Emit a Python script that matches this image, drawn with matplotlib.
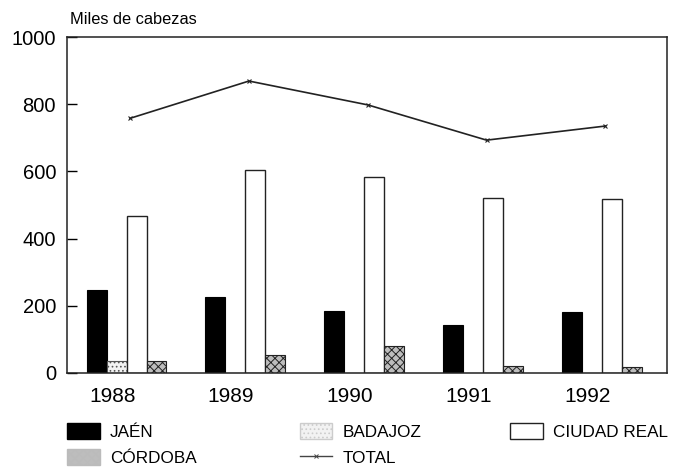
import matplotlib
matplotlib.use("Agg")
import matplotlib.pyplot as plt
import numpy as np
from matplotlib.lines import Line2D
from matplotlib.patches import Patch

plt.rcParams['font.family'] = ['Liberation Sans', 'DejaVu Sans']
plt.rcParams['hatch.linewidth'] = 0.7

years = ['1988', '1989', '1990', '1991', '1992']
jaen = [247, 226, 185, 143, 182]
badajoz = [36, 0, 0, 0, 0]
ciudad_real = [467, 604, 583, 521, 518]
cordoba = [36, 54, 80, 21, 18]
total = [758, 869, 798, 693, 735]

fig = plt.figure(figsize=(6.85, 4.69), dpi=100)
ax = fig.add_axes([0.098, 0.205, 0.876, 0.716])

x = np.arange(len(years))
w = 0.168

ax.bar(x - 1.5 * w, jaen, w, color='black', edgecolor='black', linewidth=0.8)
ax.bar(x - 0.5 * w, badajoz, w, color='#f2f2f2', edgecolor='#555555',
       hatch='....', linewidth=0.8)
ax.bar(x + 0.5 * w, ciudad_real, w, color='white', edgecolor='#222222', linewidth=1.0)
ax.bar(x + 1.5 * w, cordoba, w, color='#bdbdbd', edgecolor='#222222',
       hatch='xxxx', linewidth=0.8)

ax.plot(x + 0.03, total, color='#222222', linewidth=1.2, marker='x',
        markersize=3.5, markeredgewidth=0.8)

ax.set_xlim(-0.50, 4.55)
ax.set_ylim(0, 1000)
ax.set_yticks([0, 200, 400, 600, 800, 1000])
ax.set_xticks(x - 0.12)
ax.set_xticklabels(years)
ax.tick_params(axis='x', length=0, pad=10, labelsize=15)
ax.tick_params(axis='y', direction='in', length=7, width=1, pad=8, labelsize=14.5)
for s in ax.spines.values():
    s.set_linewidth(1.1)
    s.set_color('#222222')

fig.text(0.102, 0.949, 'Miles de cabezas', fontsize=11.8, ha='left', va='baseline')

h_j = Patch(facecolor='black', edgecolor='black')
h_b = Patch(facecolor='#f2f2f2', edgecolor='#cccccc', hatch='....')
h_c = Patch(facecolor='white', edgecolor='#222222')
h_o = Patch(facecolor='#bdbdbd', edgecolor='#bbbbbb', hatch='xxxx')
h_t = Line2D([0], [0], color='#444444', linewidth=1.0, marker='x', markersize=3,
             markeredgewidth=0.7)

leg_kw = dict(loc='upper left', frameon=False, fontsize=12.3, handlelength=1.9,
              handleheight=1.1, handletextpad=0.6, labelspacing=0.5,
              borderpad=0.0, borderaxespad=0.0)
fig.legend([h_j, h_o], ['JAÉN', 'CÓRDOBA'], bbox_to_anchor=(0.098, 0.098), **leg_kw)
fig.legend([h_b, h_t], ['BADAJOZ', 'TOTAL'], bbox_to_anchor=(0.438, 0.098), **leg_kw)
fig.legend([h_c], ['CIUDAD REAL'], bbox_to_anchor=(0.745, 0.098), **leg_kw)

fig.savefig('out.png', dpi=100)
